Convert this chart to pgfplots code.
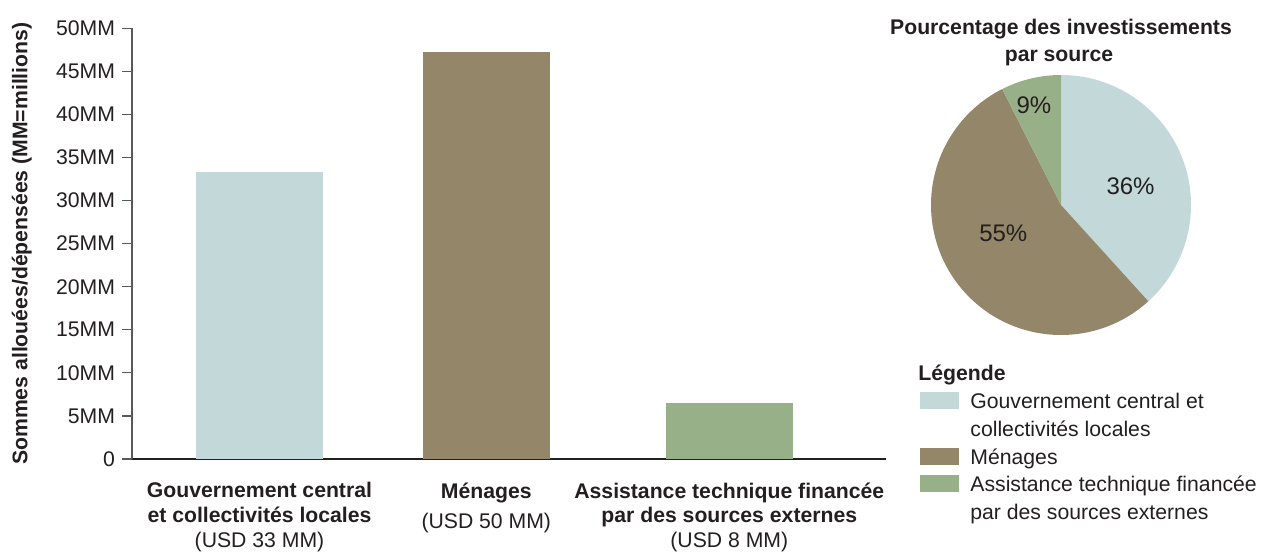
\documentclass[border=0pt]{standalone}
\usepackage{pgfplots}
\pgfplotsset{compat=1.18}
\usepackage{fontspec}
\setmainfont{Liberation Sans}
\definecolor{cBlue}{RGB}{194,216,217}
\definecolor{cBrown}{RGB}{148,134,105}
\definecolor{cGreen}{RGB}{152,176,136}
\definecolor{txt}{RGB}{35,31,32}
\newcommand{\fs}{\fontsize{10.6}{12.75}\selectfont}
\newcommand{\fx}{\fontsize{10.6}{12.4}\selectfont}
\newcommand{\fp}{\fontsize{12}{14}\selectfont}
% values (USD millions)
\def\vA{33.3}
\def\vB{47.2}
\def\vC{6.5}
\begin{document}
\begin{tikzpicture}
\path[use as bounding box] (0,0) rectangle (631.5pt,276pt);
\pgfmathsetmacro\tot{\vA+\vB+\vC}
\pgfmathsetmacro\aA{90-\vA/\tot*360}
\pgfmathsetmacro\aB{\aA-\vB/\tot*360}
\begin{axis}[
  at={(66pt,46.5pt)}, anchor=south west,
  scale only axis, width=377pt, height=215.35pt,
  xmin=132, xmax=886, ymin=0, ymax=50,
  axis x line*=bottom, axis y line*=left,
  x axis line style={-, draw=txt, line width=0.9pt},
  y axis line style={-, draw=black!65, line width=0.6pt},
  ybar, bar width=63.35pt, bar shift=0pt,
  ytick={0,5,10,15,20,25,30,35,40,45,50},
  yticklabels={0,5MM,10MM,15MM,20MM,25MM,30MM,35MM,40MM,45MM,50MM},
  ytick align=outside, major tick length=5pt,
  ytick style={draw=black!65, line width=0.6pt},
  xtick={259.5,486.3,729.3},
  xtick style={draw=none},
  xticklabels={
    {\textbf{Gouvernement central}\\\textbf{et collectivités locales}\\(USD 33 MM)},
    {\textbf{Ménages}\\[3pt](USD 50 MM)},
    {\textbf{Assistance technique financée}\\\textbf{par des sources externes}\\(USD 8 MM)}},
  yticklabel style={font=\fs, text=txt},
  xticklabel style={font=\fx, text=txt, align=center, anchor=north, yshift=-3.2pt},
  ylabel={\textbf{Sommes allouées/dépensées (MM=millions)}},
  ylabel style={font=\fs, text=txt, at={(axis description cs:-0.146,0.5)}, anchor=center},
]
\addplot[fill=cBlue, draw=none] coordinates {(259.5,\vA)};
\addplot[fill=cBrown, draw=none] coordinates {(486.3,\vB)};
\addplot[fill=cGreen, draw=none] coordinates {(729.3,\vC)};
\end{axis}
\begin{axis}[
  at={(530.5pt,173.5pt)}, anchor=center,
  scale only axis, width=130pt, height=130pt,
  xmin=-1, xmax=1, ymin=-1, ymax=1, hide axis, clip=false,
]
\fill[cBlue] (axis cs:0,0) -- (axis cs:0,1) arc[start angle=90, end angle=\aA, radius=65pt] -- cycle;
\fill[cBrown] (axis cs:0,0) -- (axis cs:{cos(\aA)},{sin(\aA)}) arc[start angle=\aA, end angle=\aB, radius=65pt] -- cycle;
\fill[cGreen] (axis cs:0,0) -- (axis cs:{cos(\aB)},{sin(\aB)}) arc[start angle=\aB, end angle=-270, radius=65pt] -- cycle;
\node[font=\fp, text=txt] at (axis cs:0.535,0.148) {36\%};
\node[font=\fp, text=txt] at (axis cs:-0.444,-0.218) {55\%};
\node[font=\fp, text=txt] at (axis cs:-0.208,0.769) {9\%};
\end{axis}
\begin{scope}[x=0.5pt, y=-0.5pt, shift={(0pt,276pt)}]
\node[anchor=base, inner sep=0pt, font=\fs\bfseries, text=txt] at (1061,35) {Pourcentage des investissements};
\node[anchor=base, inner sep=0pt, font=\fs\bfseries, text=txt] at (1059,61.7) {par source};
\node[anchor=base west, inner sep=0pt, font=\fs\bfseries, text=txt] at (918,381) {Légende};
\fill[cBlue] (920,392) rectangle (959,409);
\fill[cBrown] (920,447.7) rectangle (959,465);
\fill[cGreen] (920,475) rectangle (959,491.7);
\node[anchor=base west, inner sep=0pt, font=\fs, text=txt] at (970,408) {Gouvernement central et};
\node[anchor=base west, inner sep=0pt, font=\fs, text=txt] at (970,436) {collectivités locales};
\node[anchor=base west, inner sep=0pt, font=\fs, text=txt] at (970,464) {Ménages};
\node[anchor=base west, inner sep=0pt, font=\fs, text=txt] at (970,491.7) {Assistance technique financée};
\node[anchor=base west, inner sep=0pt, font=\fs, text=txt] at (970,519) {par des sources externes};
\end{scope}
\end{tikzpicture}
\end{document}
